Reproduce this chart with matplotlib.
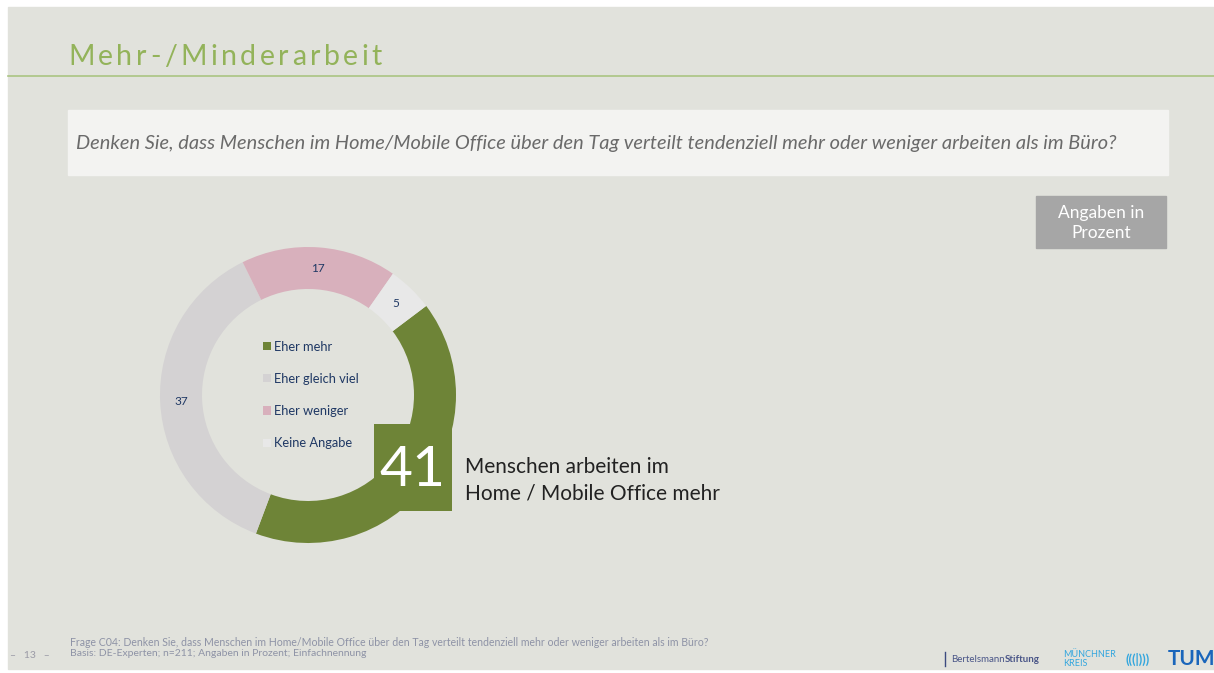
import matplotlib.pyplot as plt
import numpy as np
from matplotlib.patches import Rectangle

# data
labels = ['Eher mehr', 'Eher gleich viel', 'Eher weniger', 'Keine Angabe']
values = [41, 37, 17, 5]
colors = ['#6e8437', '#d4d2d3', '#d8b0bc', '#e8e8e8']

title = 'Mehr-/Minderarbeit'
question = ('Denken Sie, dass Menschen im Home/Mobile Office über den Tag verteilt '
            'tendenziell mehr oder weniger arbeiten als im Büro?')
footnote1 = ('Frage C04: Denken Sie, dass Menschen im Home/Mobile Office über den Tag verteilt '
             'tendenziell mehr oder weniger arbeiten als im Büro?')
footnote2 = 'Basis: DE-Experten; n=211; Angaben in Prozent; Einfachnennung'

W, H = 1214, 673
plt.rcParams['font.family'] = ['Lato', 'DejaVu Sans']

fig = plt.figure(figsize=(W / 100, H / 100), dpi=100)
fig.patch.set_facecolor('white')

# background axes in pixel coords
bg = fig.add_axes([0, 0, 1, 1], zorder=0)
bg.set_xlim(0, W)
bg.set_ylim(H, 0)
bg.axis('off')
bg.add_patch(Rectangle((8, 7), W - 8, 662, color='#e1e2dc', zorder=0))

renderer = fig.canvas.get_renderer()


def fit_width(t, target):
    # scale font so the text spans target pixels
    w = t.get_window_extent(renderer).width
    t.set_fontsize(t.get_fontsize() * target / w)


# title with letter spacing
x = 68
for ch in title:
    t = bg.text(x, 57, ch, fontsize=20.5, color='#93b35a', va='center', ha='left')
    w = t.get_window_extent(renderer).width
    x += w + 3.5
bg.plot([8, W], [76, 76], color='#aac583', lw=1.2)

# question box
bg.add_patch(Rectangle((68, 110), 1100, 65, color='#f3f3f1', zorder=1))
q = bg.text(76, 143, question, fontsize=12, style='italic', color='#6a6a6a',
            va='center', ha='left', zorder=2)
fit_width(q, 1034)

# Angaben in Prozent
bg.add_patch(Rectangle((1036, 196), 130, 52, color='#a6a6a6', zorder=1))
bg.text(1101, 223, 'Angaben in\nProzent', fontsize=12.5, color='white',
        ha='center', va='center', linespacing=1.35, zorder=2)

# footer
bg.text(30, 655, '–   13   –', fontsize=7.5, color='#9a9aa6', ha='center', va='center')
f1 = bg.text(70, 642, footnote1, fontsize=7, color='#8e93a6', va='center')
fit_width(f1, 637)
f2 = bg.text(70, 654, footnote2, fontsize=7, color='#8e93a6', va='center')
fit_width(f2, 297)

# logos as text
bg.plot([945, 945], [652, 666], color='#3c4a80', lw=1)
b1 = bg.text(951, 659, 'Bertelsmann', fontsize=7, color='#4a5688', va='center')
bx = b1.get_window_extent(renderer).x1
bg.text(bx, 659, 'Stiftung', fontsize=7, color='#4a5688', va='center', weight='bold')
bg.text(1063, 659, 'MÜNCHNER\nKREIS', fontsize=6.5, color='#33a6de', va='center',
        linespacing=0.95)
bg.text(1138, 659, '(((|)))', fontsize=9, color='#33a6de', va='center', ha='center',
        weight='bold')
bg.text(1192, 659, 'TUM', fontsize=15, color='#1a66bb', va='center', ha='center',
        weight='bold')

# donut
cx, cy, R = 308, 395, 150
dax = fig.add_axes([(cx - R) / W, 1 - (cy + R) / H, 2 * R / W, 2 * R / H], zorder=1)
wedges, _ = dax.pie(values, colors=colors, radius=148, startangle=37,
                    counterclock=False, wedgeprops=dict(width=42, linewidth=0))
dax.set_xlim(-R, R)
dax.set_ylim(-R, R)
dax.axis('off')
dax.patch.set_alpha(0)
for i, (v, w) in enumerate(zip(values, wedges)):
    mid = np.deg2rad((w.theta1 + w.theta2) / 2)
    if i > 0:
        dax.text(127 * np.cos(mid), 127 * np.sin(mid), str(v), fontsize=8.5,
                 color='#1f3864', ha='center', va='center')

leg = dax.legend(wedges, labels, loc='center', bbox_to_anchor=(0.51, 0.5),
                 frameon=False, fontsize=9.3, labelspacing=1.56, handlelength=0.6,
                 handleheight=0.6, handletextpad=0.25, labelcolor='#1f3864')

# highlight box
top = fig.add_axes([0, 0, 1, 1], zorder=2)
top.set_xlim(0, W)
top.set_ylim(H, 0)
top.axis('off')
top.patch.set_alpha(0)
top.add_patch(Rectangle((374, 424), 78, 87, color=colors[0], lw=0))
top.text(412, 470, str(values[0]), fontsize=41, color='white', ha='center', va='center')
top.text(465, 480, 'Menschen arbeiten im\nHome / Mobile Office mehr', fontsize=15,
         color='#222222', ha='left', va='center', linespacing=1.4)

fig.savefig('out.png', dpi=100)
